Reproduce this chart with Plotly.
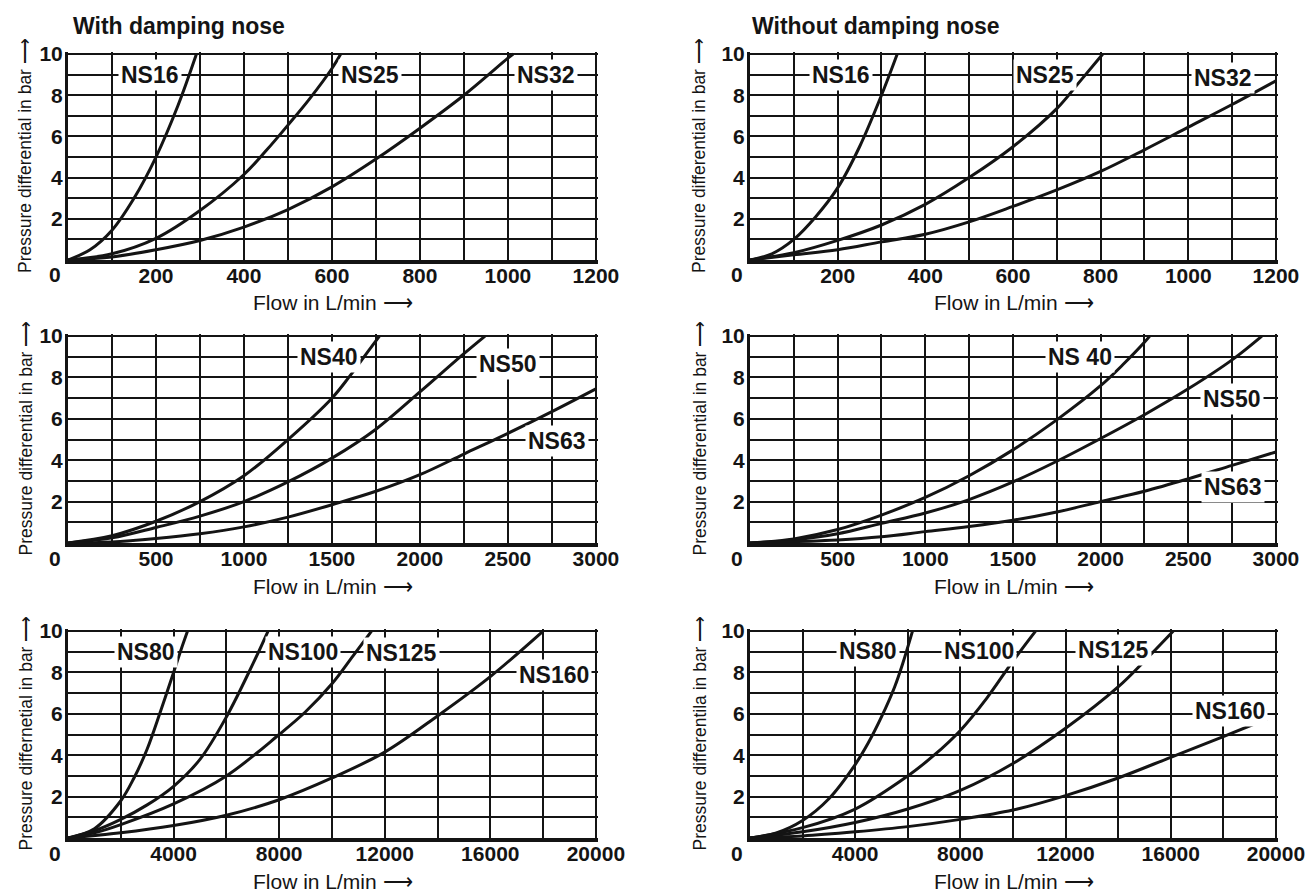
import plotly.graph_objects as go

# ---------------- data ----------------
# Top row, flow 0-1200 L/min
q_ns16_with = [0, 50, 100, 150, 200, 250, 292]
dp_ns16_with = [0, 0.5, 1.45, 3.0, 5.0, 7.5, 10]
q_ns25_with = [0, 100, 200, 300, 400, 450, 500, 550, 600, 620]
dp_ns25_with = [0, 0.3, 1.05, 2.4, 4.15, 5.3, 6.55, 7.85, 9.3, 10]
q_ns32_with = [0, 100, 200, 300, 400, 500, 600, 700, 800, 900, 1000, 1012]
dp_ns32_with = [0, 0.15, 0.5, 0.95, 1.6, 2.45, 3.55, 4.9, 6.4, 8.0, 9.8, 10]

q_ns16_without = [0, 50, 100, 150, 200, 250, 300, 336]
dp_ns16_without = [0, 0.3, 1.0, 2.1, 3.5, 5.5, 8.0, 10]
q_ns25_without = [0, 100, 200, 300, 400, 500, 600, 700, 750, 805]
dp_ns25_without = [0, 0.35, 0.95, 1.7, 2.7, 4.0, 5.5, 7.35, 8.6, 10]
q_ns32_without = [0, 100, 200, 300, 400, 500, 600, 700, 800, 900, 1000, 1100, 1200]
dp_ns32_without = [0, 0.25, 0.5, 0.88, 1.25, 1.85, 2.6, 3.4, 4.3, 5.35, 6.45, 7.55, 8.7]

# Middle row, flow 0-3000 L/min
q_ns40_with = [0, 250, 500, 750, 1000, 1250, 1500, 1600, 1700, 1770]
dp_ns40_with = [0, 0.35, 1.05, 2.0, 3.25, 5.0, 7.0, 8.05, 9.2, 10]
q_ns50_with = [0, 250, 500, 750, 1000, 1250, 1500, 1750, 2000, 2250, 2370]
dp_ns50_with = [0, 0.25, 0.75, 1.3, 2.0, 2.95, 4.1, 5.5, 7.3, 9.15, 10]
q_ns63_with = [0, 250, 500, 750, 1000, 1250, 1500, 1750, 2000, 2250, 2500, 2750, 3000]
dp_ns63_with = [0, 0.05, 0.22, 0.45, 0.78, 1.25, 1.85, 2.5, 3.3, 4.3, 5.3, 6.35, 7.45]

q_ns40_without = [0, 250, 500, 750, 1000, 1250, 1500, 1750, 2000, 2125, 2250, 2280]
dp_ns40_without = [0, 0.2, 0.65, 1.35, 2.2, 3.25, 4.5, 5.95, 7.6, 8.6, 9.7, 10]
q_ns50_without = [0, 250, 500, 750, 1000, 1250, 1500, 1750, 2000, 2250, 2500, 2750, 2920]
dp_ns50_without = [0, 0.15, 0.45, 0.95, 1.45, 2.1, 2.95, 3.95, 5.05, 6.2, 7.45, 8.85, 10]
q_ns63_without = [0, 500, 750, 1000, 1250, 1500, 1750, 2000, 2250, 2500, 2750, 3000]
dp_ns63_without = [0, 0.15, 0.3, 0.55, 0.8, 1.1, 1.5, 2.0, 2.5, 3.1, 3.75, 4.4]

# Bottom row, flow 0-20000 L/min
q_ns80_with = [0, 1000, 2000, 2500, 3000, 3500, 4000, 4270, 4530]
dp_ns80_with = [0, 0.45, 1.8, 2.9, 4.3, 6.1, 8.0, 9.05, 10]
q_ns100_with = [0, 1000, 2000, 3000, 4000, 5000, 6000, 7000, 7580]
dp_ns100_with = [0, 0.35, 0.9, 1.6, 2.5, 3.8, 5.85, 8.4, 10]
q_ns125_with = [0, 1000, 2000, 4000, 6000, 8000, 9000, 10000, 10800, 11500]
dp_ns125_with = [0, 0.25, 0.65, 1.65, 3.0, 5.0, 6.1, 7.45, 8.8, 10]
q_ns160_with = [0, 2000, 4000, 6000, 8000, 10000, 12000, 14000, 16000, 18000]
dp_ns160_with = [0, 0.25, 0.6, 1.1, 1.85, 2.9, 4.15, 5.9, 7.8, 10]

q_ns80_without = [0, 1000, 2000, 3000, 4000, 4500, 5000, 5500, 5800, 6180]
dp_ns80_without = [0, 0.25, 0.85, 1.9, 3.55, 4.6, 5.85, 7.3, 8.4, 10]
q_ns100_without = [0, 2000, 4000, 6000, 7000, 8000, 9000, 10000, 10860]
dp_ns100_without = [0, 0.5, 1.4, 3.0, 4.0, 5.2, 6.75, 8.55, 10]
q_ns125_without = [0, 2000, 4000, 6000, 8000, 10000, 12000, 14000, 15000, 16100]
dp_ns125_without = [0, 0.3, 0.75, 1.4, 2.3, 3.6, 5.3, 7.3, 8.55, 10]
q_ns160_without = [0, 2000, 4000, 6000, 8000, 10000, 12000, 14000, 16000, 18000, 19650]
dp_ns160_without = [0, 0.1, 0.3, 0.55, 0.9, 1.35, 2.05, 2.9, 3.9, 4.9, 5.75]

# tick labels
x_ticks_top = [200, 400, 600, 800, 1000, 1200]
x_minor_top = [100, 300, 500, 700, 900, 1100]
x_ticks_mid = [500, 1000, 1500, 2000, 2500, 3000]
x_minor_mid = [250, 750, 1250, 1750, 2250, 2750]
x_ticks_bot = [4000, 8000, 12000, 16000, 20000]
x_minor_bot = [2000, 6000, 10000, 14000, 18000]
y_ticks = [2, 4, 6, 8, 10]
y_minor = [1, 3, 5, 7, 9]

panel_titles = ["With damping nose", "Without damping nose"]
x_title = "Flow in L/min \u27f6"
y_titles = [
    "Pressure differential in bar \u27f6", "Pressure differential in bar \u27f6",
    "Pressure differential in bar \u27f6", "Pressure differential in bar \u27f6",
    "Pressure differnetial in bar \u27f6", "Pressure differentila in bar \u27f6",
]

# ---------------- panel definitions ----------------
panels = [
    dict(xmax=1200, ticks=x_ticks_top, minor=x_minor_top, row=0, col=0,
         series=[("NS16", q_ns16_with, dp_ns16_with, 187, 9.0),
                 ("NS25", q_ns25_with, dp_ns25_with, 686, 9.0),
                 ("NS32", q_ns32_with, dp_ns32_with, 1087, 9.0)]),
    dict(xmax=1200, ticks=x_ticks_top, minor=x_minor_top, row=0, col=1,
         series=[("NS16", q_ns16_without, dp_ns16_without, 208, 9.0),
                 ("NS25", q_ns25_without, dp_ns25_without, 672, 9.0),
                 ("NS32", q_ns32_without, dp_ns32_without, 1080, 8.85)]),
    dict(xmax=3000, ticks=x_ticks_mid, minor=x_minor_mid, row=1, col=0,
         series=[("NS40", q_ns40_with, dp_ns40_with, 1486, 9.0),
                 ("NS50", q_ns50_with, dp_ns50_with, 2502, 8.65),
                 ("NS63", q_ns63_with, dp_ns63_with, 2780, 4.95)]),
    dict(xmax=3000, ticks=x_ticks_mid, minor=x_minor_mid, row=1, col=1,
         series=[("NS 40", q_ns40_without, dp_ns40_without, 1881, 9.0),
                 ("NS50", q_ns50_without, dp_ns50_without, 2747, 6.95),
                 ("NS63", q_ns63_without, dp_ns63_without, 2758, 2.7)]),
    dict(xmax=20000, ticks=x_ticks_bot, minor=x_minor_bot, row=2, col=0,
         series=[("NS80", q_ns80_with, dp_ns80_with, 2972, 9.0),
                 ("NS100", q_ns100_with, dp_ns100_with, 8918, 9.0),
                 ("NS125", q_ns125_with, dp_ns125_with, 12650, 8.95),
                 ("NS160", q_ns160_with, dp_ns160_with, 18400, 7.9)]),
    dict(xmax=20000, ticks=x_ticks_bot, minor=x_minor_bot, row=2, col=1,
         series=[("NS80", q_ns80_without, dp_ns80_without, 4482, 9.05),
                 ("NS100", q_ns100_without, dp_ns100_without, 8712, 9.05),
                 ("NS125", q_ns125_without, dp_ns125_without, 13826, 9.1),
                 ("NS160", q_ns160_without, dp_ns160_without, 18245, 6.15)]),
]

W, H = 1308, 892
col_px = [(68, 598), (750, 1278)]
row_px = [(52, 260), (334, 543), (629, 838)]
ytitle_shift = [-43, -51]

INK = "#141414"
FONT = "Liberation Sans, Arial, Helvetica, sans-serif"

fig = go.Figure()
annotations = []

for i, p in enumerate(panels):
    n = i + 1
    xa = "x" if n == 1 else f"x{n}"
    ya = "y" if n == 1 else f"y{n}"
    x0, x1 = col_px[p["col"]]
    y0, y1 = row_px[p["row"]]
    xdom = [x0 / W, x1 / W]
    ydom = [1 - y1 / H, 1 - y0 / H]

    for name, q, dp, lx, ly in p["series"]:
        fig.add_trace(go.Scatter(
            x=q, y=dp, mode="lines", name=name, showlegend=False,
            line=dict(color=INK, width=3, shape="spline", smoothing=1.0),
            xaxis=xa, yaxis=ya, hoverinfo="skip"))
        annotations.append(dict(
            x=lx, y=ly, xref=xa, yref=ya, text=name, showarrow=False,
            xanchor="center", yanchor="middle", bgcolor="white", borderpad=2,
            font=dict(family=FONT, size=23, color=INK, weight="bold")))

    xkey = "xaxis" if n == 1 else f"xaxis{n}"
    ykey = "yaxis" if n == 1 else f"yaxis{n}"
    fig.update_layout({
        xkey: dict(
            domain=xdom, anchor=ya, range=[0, p["xmax"] * 1.004],
            tickmode="array", tickvals=p["ticks"],
            ticktext=[str(t) for t in p["ticks"]],
            showgrid=True, gridcolor=INK, gridwidth=2,
            minor=dict(tickmode="array", tickvals=p["minor"], showgrid=True,
                       gridcolor=INK, gridwidth=2, ticks=""),
            showline=True, linecolor=INK, linewidth=4, ticks="",
            zeroline=False, fixedrange=True, ticklabelstandoff=-6,
            automargin=False,
            tickfont=dict(family=FONT, size=21, color=INK, weight="bold")),
        ykey: dict(
            domain=ydom, anchor=xa, range=[0, 10.1],
            tickmode="array", tickvals=y_ticks,
            ticktext=[str(t) for t in y_ticks],
            showgrid=True, gridcolor=INK, gridwidth=2,
            minor=dict(tickmode="array", tickvals=y_minor, showgrid=True,
                       gridcolor=INK, gridwidth=2, ticks=""),
            showline=True, linecolor=INK, linewidth=3, ticks="",
            zeroline=False, fixedrange=True, ticklabelstandoff=-2,
            automargin=False,
            tickfont=dict(family=FONT, size=21, color=INK, weight="bold")),
    })

    # shared origin "0"
    annotations.append(dict(
        x=0, y=0, xref=f"{xa} domain", yref=f"{ya} domain", text="0",
        showarrow=False, xanchor="right", yanchor="middle", xshift=-5, yshift=-15,
        font=dict(family=FONT, size=21, color=INK, weight="bold")))
    # axis titles
    annotations.append(dict(
        x=0.5, y=0, xref=f"{xa} domain", yref=f"{ya} domain", text=x_title,
        showarrow=False, xanchor="center", yanchor="middle", yshift=-43,
        font=dict(family=FONT, size=21, color=INK)))
    annotations.append(dict(
        x=0, y=0.5, xref=f"{xa} domain", yref=f"{ya} domain", text=y_titles[i],
        showarrow=False, xanchor="center", yanchor="middle", textangle=-90,
        xshift=ytitle_shift[p["col"]],
        font=dict(family=FONT, size=17.5, color=INK)))

# column titles
annotations.append(dict(x=71 / W, y=1 - 26 / H, xref="paper", yref="paper",
                        text=panel_titles[0], showarrow=False, xanchor="left",
                        yanchor="middle",
                        font=dict(family=FONT, size=23, color=INK, weight="bold")))
annotations.append(dict(x=750 / W, y=1 - 26 / H, xref="paper", yref="paper",
                        text=panel_titles[1], showarrow=False, xanchor="left",
                        yanchor="middle",
                        font=dict(family=FONT, size=23, color=INK, weight="bold")))

fig.update_layout(
    width=W, height=H, autosize=False,
    margin=dict(l=0, r=0, t=0, b=0, pad=0, autoexpand=False),
    paper_bgcolor="white", plot_bgcolor="white",
    showlegend=False, annotations=annotations,
)

fig.write_html(
    "out.html",
    config={"displayModeBar": False},
    post_script="document.body.style.margin='0';document.body.style.overflow='hidden';",
)
